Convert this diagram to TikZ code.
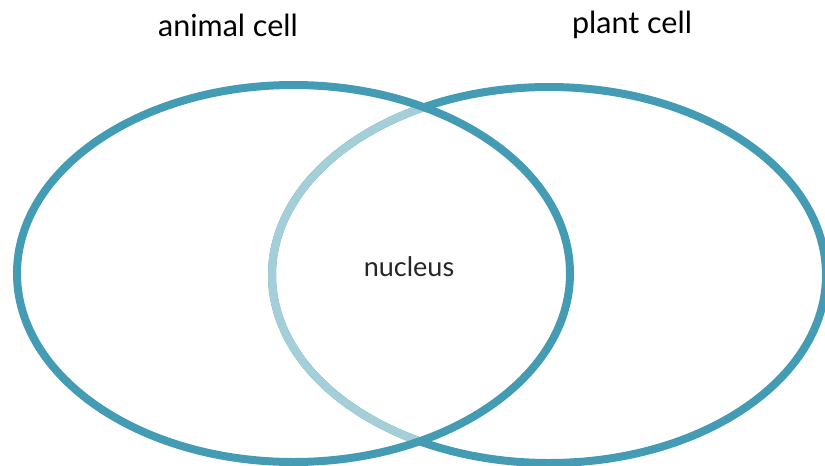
\documentclass[tikz,border=0pt]{standalone}
\usepackage{fontspec}
\setmainfont{Lato}
\definecolor{venndark}{HTML}{439CB4}
\definecolor{vennlight}{HTML}{A4CFD9}
\begin{document}
\begin{tikzpicture}[x=1pt,y=-1pt,
  ring/.style={line width=8pt},
  title/.style={font=\fontsize{30.5}{33}\selectfont, text=black, inner sep=0pt},
  item/.style={font=\fontsize{27}{29}\selectfont, text=black!85, inner sep=0pt}]
\useasboundingbox (0,0) rectangle (825,466);
% right ellipse (dark)
\draw[ring, venndark] (549,275) ellipse [x radius=277, y radius=188];
% part of right ellipse inside left ellipse (light)
\begin{scope}
  \clip (293.5,273.5) ellipse [x radius=276.5, y radius=188.5];
  \draw[ring, vennlight] (549,275) ellipse [x radius=277, y radius=188];
\end{scope}
% left ellipse (dark)
\draw[ring, venndark] (293.5,273.5) ellipse [x radius=276.5, y radius=188.5];
\node[title] (animal) at (228,25) {animal cell};
\node[title] (plant) at (632,25) {plant cell};
\node[item] (nucleus) at (409,267) {nucleus};
\end{tikzpicture}
\end{document}
